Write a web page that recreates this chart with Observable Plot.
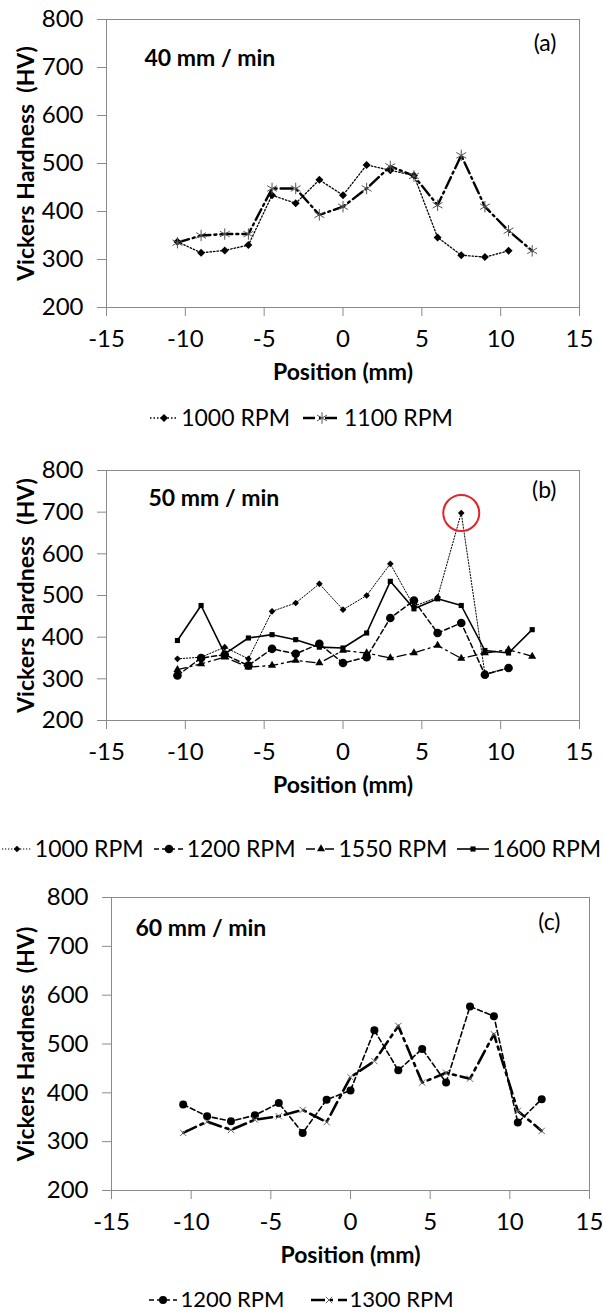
<!DOCTYPE html>
<html><head><meta charset="utf-8">
<script src="https://cdn.jsdelivr.net/npm/d3@7"></script>
<script src="https://cdn.jsdelivr.net/npm/@observablehq/plot@0.6"></script>
<style>
body{margin:0;background:#fff;font-family:Lato,sans-serif;}
#root{position:relative;width:603px;height:1314px;overflow:hidden;background:#fff;}
.panel{position:absolute;left:0;}
.legend{position:absolute;left:0;width:603px;height:24px;line-height:24px;display:flex;justify-content:center;align-items:center;font-size:23px;color:#000;font-family:Lato,sans-serif;}
.item{display:flex;align-items:center;white-space:nowrap;}
.item svg{display:block;}
</style></head><body><div id="root"></div><script>
// ---- data ----
const positions = [-10.5,-9,-7.5,-6,-4.5,-3,-1.5,0,1.5,3,4.5,6,7.5,9,10.5,12];
const xTicks = [-15,-10,-5,0,5,10,15];
const yTicks = [200,300,400,500,600,700,800];
const a1000 = [337,314,319,330,434,417,466,434,497,486,475,346,309,305,318,null];
const a1100 = [335,350,353,353,448,448,393,410,448,494,474,413,517,410,360,318];
const b1000 = [348,352,376,348,462,482,528,466,500,576,474,496,698,312,326,null];
const b1200 = [308,350,358,332,372,360,384,338,352,446,488,410,434,310,326,null];
const b1550 = [322,336,352,328,332,344,338,368,362,350,362,380,349,362,370,354];
const b1600 = [392,476,360,398,406,394,376,374,410,534,468,492,476,368,362,418];
const c1200 = [376,352,342,354,379,318,386,405,528,446,490,421,577,557,339,387];
const c1300 = [318,341,324,345,352,365,340,432,465,537,421,441,429,520,363,322];
const speedLabels = ["40 mm / min","50 mm / min","60 mm / min"];
const panelTags = ["(a)","(b)","(c)"];

function table(values){
  return positions.map((x,i)=>({x, y: values[i]})).filter(d=>d.y!=null);
}
const symbolMap = {diamond2:d3.symbolDiamond2, circle:d3.symbolCircle, triangle:d3.symbolTriangle,
  square:d3.symbolSquare, asterisk:d3.symbolAsterisk, times:d3.symbolTimes};

const panels = [
  {top:0, mt:19, ph:288, mb:95, ml:106, mr:24, tagDx:-23, tagDy:24, labDx:38, labDy:39,
   legendTop:405, legendGap:13, legendFont:23,
   series:[
    {name:"1000 RPM", values:a1000, dash:"1.5,2", width:1.3, symbol:"diamond2", r:3.6, fill:"#000", stroke:"none", sw:28},
    {name:"1100 RPM", values:a1100, dash:"12,4,2,4", width:2.4, symbol:"asterisk", r:5.4, fill:"none", stroke:"#555", sw:38}
   ]},
  {top:440, mt:30, ph:250, mb:85, ml:106, mr:24, tagDx:-23, tagDy:20, labDx:42, labDy:28,
   legendTop:836, legendGap:10, legendFont:23,
   series:[
    {name:"1000 RPM", values:b1000, dash:"1.3,1.7", width:1, symbol:"diamond2", r:3, fill:"#000", stroke:"none", sw:30},
    {name:"1200 RPM", values:b1200, dash:"5,3", width:1.5, symbol:"circle", r:4.3, fill:"#000", stroke:"none", sw:30},
    {name:"1550 RPM", values:b1550, dash:"9,4,2,4", width:1.3, symbol:"triangle", r:3, fill:"#000", stroke:"none", sw:30},
    {name:"1600 RPM", values:b1600, dash:null, width:1.6, symbol:"square", r:2.9, fill:"#000", stroke:"none", sw:32}
   ], highlight:true},
  {top:870, mt:27, ph:293, mb:85, ml:111, mr:14, tagDx:-29, tagDy:25, labDx:24, labDy:31,
   legendTop:1287, legendGap:26, legendFont:22,
   series:[
    {name:"1200 RPM", values:c1200, dash:"5,3", width:1.6, symbol:"circle", r:4, fill:"#000", stroke:"none", sw:28},
    {name:"1300 RPM", values:c1300, dash:"14,5,3,5", width:2.6, symbol:"times", r:3, fill:"none", stroke:"#666", sw:36}
   ]}
];

const root = document.getElementById("root");

panels.forEach((p, k) => {
  const marks = [
    Plot.frame({stroke:"#8a8a8a"}),
    Plot.axisX({ticks:xTicks, tickSize:9, tickPadding:13, stroke:"#8a8a8a", fill:"#000", fontSize:24, label:null, tickFormat:d=>`${d}`}),
    Plot.axisY({ticks:yTicks, tickSize:9, tickPadding:14, stroke:"#8a8a8a", fill:"#000", fontSize:24, label:null, tickFormat:d=>`${d}`}),
  ];
  p.series.forEach(s => {
    const data = table(s.values);
    marks.push(Plot.line(data, {x:"x", y:"y", stroke:"#000", strokeWidth:s.width, strokeDasharray:s.dash || undefined}));
  });
  p.series.forEach(s => {
    const data = table(s.values);
    marks.push(Plot.dot(data, {x:"x", y:"y", symbol:s.symbol, r:s.r, fill:s.fill, stroke:s.stroke, strokeWidth:1}));
  });
  if (p.highlight) {
    const vals = p.series[0].values;
    const mx = d3.max(vals);
    const i = vals.indexOf(mx);
    marks.push(Plot.dot([{x:positions[i], y:vals[i]}], {x:"x", y:"y", r:18, fill:"none", stroke:"#e3242b", strokeWidth:2}));
  }
  marks.push(Plot.text([speedLabels[k]], {frameAnchor:"top-left", dx:p.labDx, dy:p.labDy, textAnchor:"start", lineAnchor:"middle", fontWeight:"bold", fontSize:23, fill:"#000"}));
  marks.push(Plot.text([panelTags[k]], {frameAnchor:"top-right", dx:p.tagDx, dy:p.tagDy, textAnchor:"end", lineAnchor:"middle", fontSize:23, fill:"#000"}));
  marks.push(Plot.text(["Position (mm)"], {frameAnchor:"bottom", dy:65, lineAnchor:"middle", fontWeight:"bold", fontSize:23, fill:"#000"}));
  marks.push(Plot.text(["Vickers Hardness\u00a0 (HV)"], {frameAnchor:"left", dx:-(p.ml-26), rotate:-90, textAnchor:"middle", lineAnchor:"middle", fontWeight:"bold", fontSize:23, fill:"#000"}));

  const chart = Plot.plot({
    width:603, height:p.mt+p.ph+p.mb,
    marginTop:p.mt, marginBottom:p.mb, marginLeft:p.ml, marginRight:p.mr,
    style:{fontFamily:"Lato, sans-serif", fontSize:"24px", background:"#fff", color:"#000", overflow:"visible"},
    x:{domain:[-15,15]},
    y:{domain:[200,800]},
    marks
  });
  const div = document.createElement("div");
  div.className = "panel";
  div.style.top = p.top + "px";
  div.appendChild(chart);
  root.appendChild(div);

  // legend (below the chart)
  const leg = document.createElement("div");
  leg.className = "legend";
  leg.style.top = p.legendTop + "px";
  leg.style.gap = p.legendGap + "px";
  leg.style.fontSize = p.legendFont + "px";
  p.series.forEach(s => {
    const item = document.createElement("div");
    item.className = "item";
    const sv = d3.create("svg").attr("width", s.sw).attr("height", 20);
    sv.append("line").attr("x1",0).attr("x2",s.sw).attr("y1",11).attr("y2",11)
      .attr("stroke","#000").attr("stroke-width",s.width).attr("stroke-dasharray", s.dash || null);
    sv.append("path").attr("transform",`translate(${s.sw/2},11)`)
      .attr("d", d3.symbol(symbolMap[s.symbol], Math.PI*s.r*s.r)())
      .attr("fill", s.fill).attr("stroke", s.stroke === "none" ? null : s.stroke);
    item.appendChild(sv.node());
    const t = document.createElement("span");
    t.textContent = s.name;
    t.style.marginLeft = "3px";
    item.appendChild(t);
    leg.appendChild(item);
  });
  root.appendChild(leg);
});
</script></body></html>
